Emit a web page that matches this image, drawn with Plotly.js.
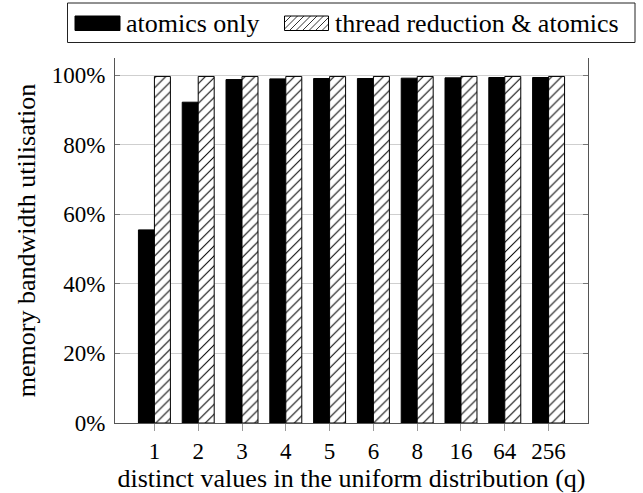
<!DOCTYPE html>
<html>
<head>
<meta charset="utf-8">
<script src="https://cdn.plot.ly/plotly-3.0.1.min.js"></script>
<style>html,body{margin:0;padding:0;background:#fff;}#chart{width:643px;height:493px;}</style>
</head>
<body>
<div id="chart"></div>
<script>
const categories = ['1','2','3','4','5','6','8','16','64','256'];
const atomicsOnly = [55.5, 92.2, 98.7, 98.9, 99.0, 99.0, 99.1, 99.2, 99.3, 99.3];
const threadReductionAtomics = [99.6, 99.6, 99.6, 99.6, 99.6, 99.6, 99.6, 99.6, 99.6, 99.6];
const seriesNames = ['atomics only', 'thread reduction & atomics'];
const yTickVals = [0, 20, 40, 60, 80, 100];
const yTickText = ['0%', '20%', '40%', '60%', '80%', '100%'];

const FONT = '"Liberation Serif", "Times New Roman", serif';
const W = 643, H = 493;
const M = {l: 115, r: 55, t: 58, b: 70};
const PW = W - M.l - M.r, PH = H - M.t - M.b;
const px = x => (x - M.l) / PW;
const py = y => (H - M.b - y) / PH;

const traces = [
  {type: 'bar', name: seriesNames[0], x: categories, y: atomicsOnly,
   marker: {color: '#000', line: {color: '#000', width: 1}}, showlegend: false},
  {type: 'bar', name: seriesNames[1], x: categories, y: threadReductionAtomics,
   marker: {color: '#fff', line: {color: '#000', width: 1},
            pattern: {shape: '/', fgcolor: '#000', bgcolor: '#fff', size: 7, solidity: 0.15}},
   showlegend: false}
];

// manual legend (box, symbols, labels)
const shapes = [];
const annotations = [];
shapes.push({type: 'rect', xref: 'paper', yref: 'paper', x0: px(67.5), x1: px(635), y0: py(3), y1: py(42.5),
  line: {color: '#222', width: 1}, fillcolor: 'rgba(0,0,0,0)'});
shapes.push({type: 'rect', xref: 'paper', yref: 'paper', x0: px(75), x1: px(120), y0: py(16), y1: py(30.5),
  line: {color: '#000', width: 1}, fillcolor: '#000'});
const hx0 = 284.5, hx1 = 328.5, hyT = 16, hyB = 30.5, hh = hyB - hyT;
shapes.push({type: 'rect', xref: 'paper', yref: 'paper', x0: px(hx0), x1: px(hx1), y0: py(hyT), y1: py(hyB),
  line: {color: '#000', width: 1}, fillcolor: '#fff'});
for (let k = hx0 - hh; k < hx1; k += 6.5) {
  const t0 = Math.max(0, hx0 - k), t1 = Math.min(hh, hx1 - k);
  if (t1 <= t0) continue;
  shapes.push({type: 'line', xref: 'paper', yref: 'paper',
    x0: px(k + t0), y0: py(hyB - t0), x1: px(k + t1), y1: py(hyB - t1),
    line: {color: '#000', width: 0.8}});
}
annotations.push({xref: 'paper', yref: 'paper', x: px(124), y: py(23), xanchor: 'left', yanchor: 'middle',
  text: seriesNames[0], showarrow: false, font: {family: FONT, size: 26, color: '#000'}});
annotations.push({xref: 'paper', yref: 'paper', x: px(333), y: py(23), xanchor: 'left', yanchor: 'middle',
  text: seriesNames[1].replace('&', '&amp;'), showarrow: false, font: {family: FONT, size: 26, color: '#000'}});

const layout = {
  width: W, height: H,
  margin: M,
  paper_bgcolor: '#fff', plot_bgcolor: '#fff',
  barmode: 'group', bargap: 0.27, bargroupgap: 0,
  showlegend: false,
  font: {family: FONT, size: 23, color: '#000'},
  xaxis: {
    type: 'category', range: [-0.9, 9.9],
    showline: true, linecolor: '#555', linewidth: 1, mirror: false,
    ticks: 'outside', ticklen: 7, tickcolor: '#999', tickwidth: 1,
    showgrid: false, zeroline: false,
    tickfont: {family: FONT, size: 23, color: '#000'},
    title: {text: 'distinct values in the uniform distribution (q)', standoff: 4,
            font: {family: FONT, size: 26, color: '#000'}}
  },
  yaxis: {
    range: [0, 104.9],
    tickvals: yTickVals, ticktext: yTickText,
    showline: true, linecolor: '#555', linewidth: 1, mirror: 'ticks',
    ticks: 'inside', ticklen: 5, tickcolor: '#777', tickwidth: 1,
    showgrid: true, gridcolor: '#cfcfcf', gridwidth: 1, zeroline: false,
    ticklabelstandoff: 4,
    tickfont: {family: FONT, size: 23, color: '#000'},
    title: {text: 'memory bandwidth utilisation', standoff: 8,
            font: {family: FONT, size: 26, color: '#000'}}
  },
  shapes: shapes,
  annotations: annotations
};

Plotly.newPlot('chart', traces, layout, {displayModeBar: false, staticPlot: true});
</script>
</body>
</html>
